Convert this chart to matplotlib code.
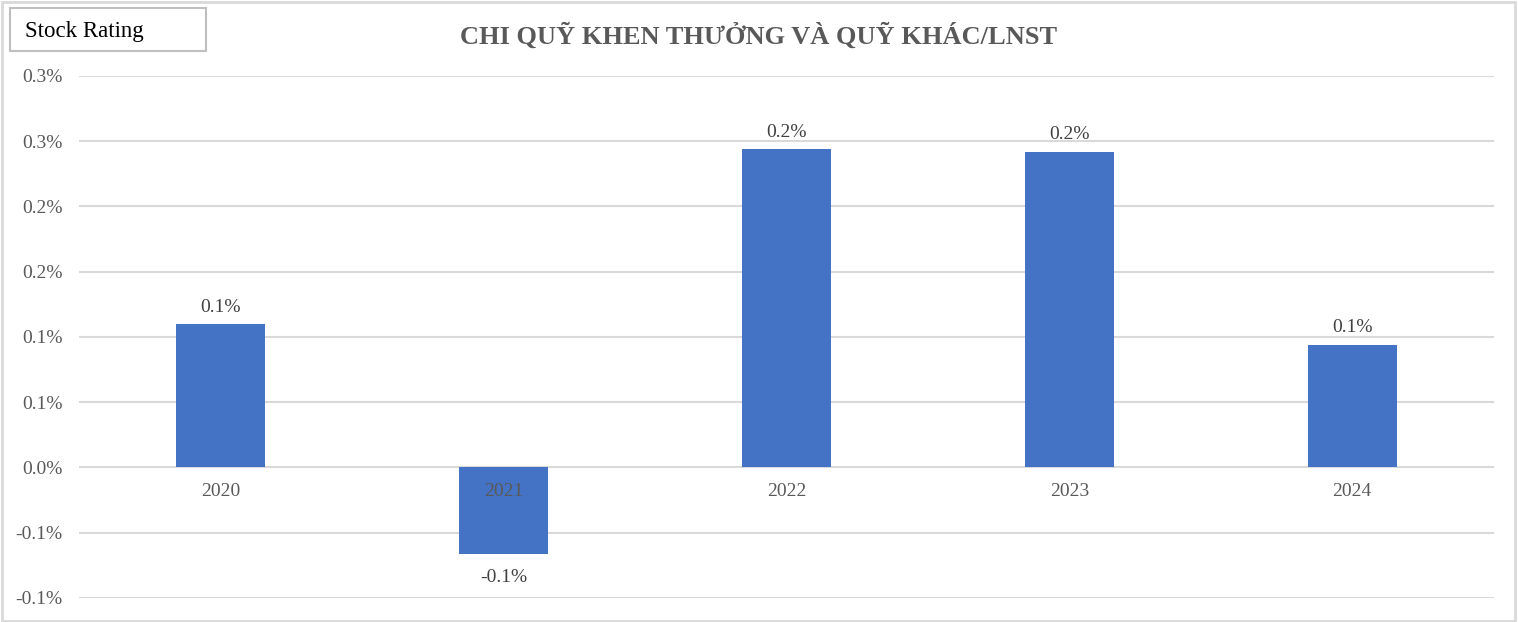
import matplotlib.pyplot as plt
from matplotlib.patches import Rectangle

years = ['2020', '2021', '2022', '2023', '2024']
ratio = [0.00110, -0.00066, 0.00244, 0.00242, 0.00094]
y_ticks = [-0.001, -0.0005, 0.0, 0.0005, 0.001, 0.0015, 0.002, 0.0025, 0.003]
y_tick_labels = ['-0.1%', '-0.1%', '0.0%', '0.1%', '0.1%', '0.2%', '0.2%', '0.3%', '0.3%']

title = 'CHI QUỸ KHEN THƯỞNG VÀ QUỸ KHÁC/LNST'
serif = ['Liberation Serif', 'DejaVu Serif']

fig = plt.figure(figsize=(15.18, 6.22), dpi=100)
ax = fig.add_axes([0.052, 0.0386, 0.932, 0.8394])

x = list(range(len(years)))
ax.bar(x, ratio, width=0.315, color='#4472C4', zorder=3)

ax.set_xlim(-0.5, len(years) - 0.5)
ax.set_ylim(-0.001, 0.003)
ax.set_yticks(y_ticks)
ax.set_yticklabels(y_tick_labels, family=serif)
ax.tick_params(axis='y', length=0, pad=12, labelsize=14, labelcolor='#595959')
ax.set_xticks([])
ax.grid(axis='y', color='#D9D9D9', linewidth=1.5, zorder=0)
for s in ax.spines.values():
    s.set_visible(False)

# category labels sit at the zero line, like Excel
for xi, yr in zip(x, years):
    ax.annotate(yr, (xi, 0), xytext=(0, -11), textcoords='offset points',
                ha='center', va='top', fontsize=14, color='#595959',
                family=serif, zorder=4)

# data labels
for xi, v in zip(x, ratio):
    off = 6 if v >= 0 else -11
    ax.annotate(f'{v * 100:.1f}%', (xi, v), xytext=(0, off), textcoords='offset points',
                ha='center', va='bottom' if v >= 0 else 'top', fontsize=14,
                color='#404040', family=serif, zorder=4)

fig.text(0.5, 0.942, title, ha='center', va='center', fontsize=19,
         fontweight='bold', color='#595959', family=serif)

# "Stock Rating" box
fig.patches.append(Rectangle((10 / 1518, 1 - 51 / 622), 196 / 1518, 43 / 622,
                             transform=fig.transFigure, fill=False,
                             edgecolor='#BFBFBF', linewidth=1.5))
fig.text(25 / 1518, 1 - 31 / 622, 'Stock Rating', ha='left', va='center',
         fontsize=16.5, color='black', family=serif)

# outer border
fig.patches.append(Rectangle((0.001, 0.002), 0.997, 0.995, transform=fig.transFigure,
                             fill=False, edgecolor='#D9D9D9', linewidth=2))

fig.savefig('out.png', dpi=100)
